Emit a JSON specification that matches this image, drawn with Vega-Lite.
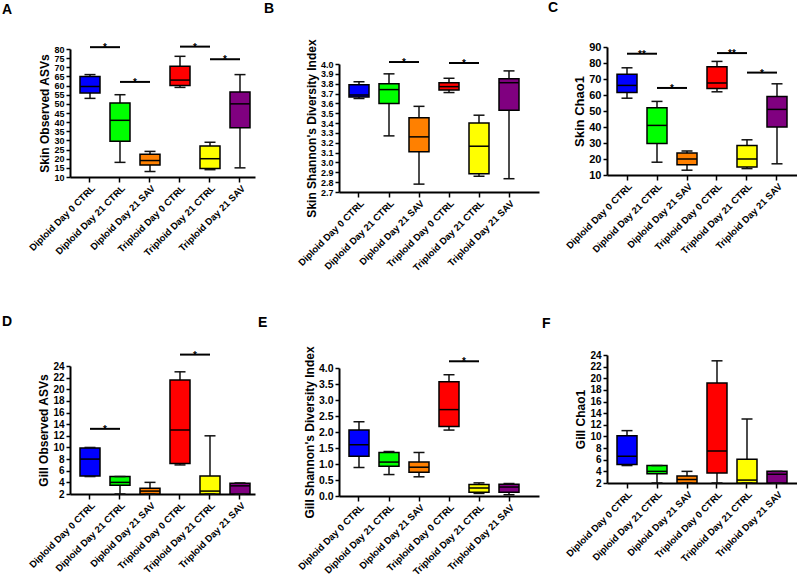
{
"$schema": "https://vega.github.io/schema/vega-lite/v6.json",
"padding": {"left": 2, "top": 1, "right": 0, "bottom": 0},
"background": "white",
"datasets": {
"boxes": [
{"panel":"A","group":"Diploid Day 0 CTRL","lower":53,"q1":56,"median":59.5,"q3":65,"upper":66},
{"panel":"A","group":"Diploid Day 21 CTRL","lower":18,"q1":29.5,"median":41,"q3":50.5,"upper":55},
{"panel":"A","group":"Diploid Day 21 SAV","lower":13,"q1":16.5,"median":19,"q3":22.5,"upper":24},
{"panel":"A","group":"Triploid Day 0 CTRL","lower":59,"q1":60,"median":63,"q3":70.5,"upper":76},
{"panel":"A","group":"Triploid Day 21 CTRL","lower":14,"q1":14.7,"median":20,"q3":27,"upper":29},
{"panel":"A","group":"Triploid Day 21 SAV","lower":15,"q1":37,"median":50,"q3":56.5,"upper":66},
{"panel":"B","group":"Diploid Day 0 CTRL","lower":3.65,"q1":3.665,"median":3.685,"q3":3.79,"upper":3.82},
{"panel":"B","group":"Diploid Day 21 CTRL","lower":3.27,"q1":3.6,"median":3.74,"q3":3.8,"upper":3.9},
{"panel":"B","group":"Diploid Day 21 SAV","lower":2.78,"q1":3.11,"median":3.26,"q3":3.455,"upper":3.57},
{"panel":"B","group":"Triploid Day 0 CTRL","lower":3.71,"q1":3.735,"median":3.77,"q3":3.81,"upper":3.855},
{"panel":"B","group":"Triploid Day 21 CTRL","lower":2.86,"q1":2.885,"median":3.165,"q3":3.4,"upper":3.48},
{"panel":"B","group":"Triploid Day 21 SAV","lower":2.835,"q1":3.53,"median":3.81,"q3":3.85,"upper":3.93},
{"panel":"C","group":"Diploid Day 0 CTRL","lower":58,"q1":61.5,"median":66,"q3":73,"upper":77},
{"panel":"C","group":"Diploid Day 21 CTRL","lower":18,"q1":29.7,"median":41,"q3":52,"upper":56},
{"panel":"C","group":"Diploid Day 21 SAV","lower":13,"q1":16.4,"median":20,"q3":23.7,"upper":25},
{"panel":"C","group":"Triploid Day 0 CTRL","lower":62,"q1":64,"median":67.5,"q3":77.6,"upper":81},
{"panel":"C","group":"Triploid Day 21 CTRL","lower":14,"q1":15,"median":20,"q3":28.5,"upper":32},
{"panel":"C","group":"Triploid Day 21 SAV","lower":17,"q1":40,"median":51,"q3":59,"upper":67},
{"panel":"D","group":"Diploid Day 0 CTRL","lower":5,"q1":5.1,"median":8,"q3":9.9,"upper":10},
{"panel":"D","group":"Diploid Day 21 CTRL","lower":2,"q1":3.5,"median":4,"q3":5,"upper":5},
{"panel":"D","group":"Diploid Day 21 SAV","lower":2,"q1":2,"median":2.5,"q3":3,"upper":4},
{"panel":"D","group":"Triploid Day 0 CTRL","lower":7,"q1":7.25,"median":13,"q3":21.6,"upper":23},
{"panel":"D","group":"Triploid Day 21 CTRL","lower":2,"q1":2,"median":2.5,"q3":5.1,"upper":12},
{"panel":"D","group":"Triploid Day 21 SAV","lower":2,"q1":2,"median":3.4,"q3":3.85,"upper":3.9},
{"panel":"E","group":"Diploid Day 0 CTRL","lower":0.89,"q1":1.24,"median":1.6,"q3":2.06,"upper":2.32},
{"panel":"E","group":"Diploid Day 21 CTRL","lower":0.67,"q1":0.93,"median":1.06,"q3":1.36,"upper":1.39},
{"panel":"E","group":"Diploid Day 21 SAV","lower":0.6,"q1":0.74,"median":0.9,"q3":1.06,"upper":1.36},
{"panel":"E","group":"Triploid Day 0 CTRL","lower":2.06,"q1":2.17,"median":2.7,"q3":3.57,"upper":3.79},
{"panel":"E","group":"Triploid Day 21 CTRL","lower":0.08,"q1":0.12,"median":0.25,"q3":0.36,"upper":0.41},
{"panel":"E","group":"Triploid Day 21 SAV","lower":0.04,"q1":0.12,"median":0.28,"q3":0.37,"upper":0.39},
{"panel":"F","group":"Diploid Day 0 CTRL","lower":5,"q1":5.2,"median":6.6,"q3":10.1,"upper":11},
{"panel":"F","group":"Diploid Day 21 CTRL","lower":2,"q1":3.6,"median":4,"q3":5,"upper":5},
{"panel":"F","group":"Diploid Day 21 SAV","lower":2,"q1":2,"median":2.6,"q3":3.2,"upper":4},
{"panel":"F","group":"Triploid Day 0 CTRL","lower":2,"q1":3.7,"median":7.5,"q3":19.2,"upper":23},
{"panel":"F","group":"Triploid Day 21 CTRL","lower":2,"q1":2,"median":2.5,"q3":6.1,"upper":13},
{"panel":"F","group":"Triploid Day 21 SAV","lower":2,"q1":2,"median":3.5,"q3":4,"upper":4}
],
"sig": [
{"panel":"A","from":"Diploid Day 0 CTRL","to":"Diploid Day 21 CTRL","y":81,"label":"*"},
{"panel":"A","from":"Diploid Day 21 CTRL","to":"Diploid Day 21 SAV","y":62,"label":"*"},
{"panel":"A","from":"Triploid Day 0 CTRL","to":"Triploid Day 21 CTRL","y":81.3,"label":"*"},
{"panel":"A","from":"Triploid Day 21 CTRL","to":"Triploid Day 21 SAV","y":74.4,"label":"*"},
{"panel":"B","from":"Diploid Day 21 CTRL","to":"Diploid Day 21 SAV","y":4.02,"label":"*"},
{"panel":"B","from":"Triploid Day 0 CTRL","to":"Triploid Day 21 CTRL","y":4.01,"label":"*"},
{"panel":"C","from":"Diploid Day 0 CTRL","to":"Diploid Day 21 CTRL","y":85.8,"label":"**"},
{"panel":"C","from":"Diploid Day 21 CTRL","to":"Diploid Day 21 SAV","y":64.4,"label":"*"},
{"panel":"C","from":"Triploid Day 0 CTRL","to":"Triploid Day 21 CTRL","y":86.2,"label":"**"},
{"panel":"C","from":"Triploid Day 21 CTRL","to":"Triploid Day 21 SAV","y":74,"label":"*"},
{"panel":"D","from":"Diploid Day 0 CTRL","to":"Diploid Day 21 CTRL","y":13.2,"label":"*"},
{"panel":"D","from":"Triploid Day 0 CTRL","to":"Triploid Day 21 CTRL","y":25.96,"label":"*"},
{"panel":"E","from":"Triploid Day 0 CTRL","to":"Triploid Day 21 CTRL","y":4.21,"label":"*"}
]
},
"spacing": 41,
"vconcat": [
{"hconcat": [
{"width": 185, "height": 130,
 "title": {"text": "A", "dx": -68, "offset": 26},
 "data": {"name": "boxes"}, "transform": [{"filter": "datum.panel === 'A'"}],
 "layer": [
  {"mark": {"type": "rule", "color": "#111", "strokeWidth": 1.5},
   "encoding": {"x": {"field": "group", "type": "nominal", "title": null, "scale": {"domain": ["Diploid Day 0 CTRL","Diploid Day 21 CTRL","Diploid Day 21 SAV","Triploid Day 0 CTRL","Triploid Day 21 CTRL","Triploid Day 21 SAV"], "paddingInner": 0, "paddingOuter": 0.0833, "align": 1}},
    "y": {"field": "lower", "type": "quantitative", "title": "Skin Observed ASVs", "scale": {"domain": [10, 80], "nice": false, "zero": false, "range": [130, 2]}, "axis": {"values": [10,15,20,25,30,35,40,45,50,55,60,65,70,75,80], "labelFontSize": 9}},
    "y2": {"field": "upper"}}},
  {"mark": {"type": "bar", "width": 20, "stroke": "black", "strokeWidth": 1.5},
   "encoding": {"x": {"field": "group", "type": "nominal", "title": null}, "y": {"field": "q1", "type": "quantitative", "title": "Skin Observed ASVs", "axis": {"values": [10,15,20,25,30,35,40,45,50,55,60,65,70,75,80], "labelFontSize": 9}}, "y2": {"field": "q3"},
    "fill": {"field": "group", "type": "nominal", "scale": {"domain": ["Diploid Day 0 CTRL","Diploid Day 21 CTRL","Diploid Day 21 SAV","Triploid Day 0 CTRL","Triploid Day 21 CTRL","Triploid Day 21 SAV"], "range": ["#0000ff","#00ff00","#ff8000","#ff0000","#ffff00","#800080"]}, "legend": null}}},
  {"mark": {"type": "tick", "color": "black", "size": 20, "thickness": 1.5, "opacity": 1},
   "encoding": {"x": {"field": "group", "type": "nominal", "title": null}, "y": {"field": "median", "type": "quantitative", "title": "Skin Observed ASVs", "axis": {"values": [10,15,20,25,30,35,40,45,50,55,60,65,70,75,80], "labelFontSize": 9}}}},
  {"mark": {"type": "tick", "color": "#111", "size": 11, "thickness": 1.5, "opacity": 1},
   "encoding": {"x": {"field": "group", "type": "nominal", "title": null}, "y": {"field": "lower", "type": "quantitative", "title": "Skin Observed ASVs", "axis": {"values": [10,15,20,25,30,35,40,45,50,55,60,65,70,75,80], "labelFontSize": 9}}}},
  {"mark": {"type": "tick", "color": "#111", "size": 11, "thickness": 1.5, "opacity": 1},
   "encoding": {"x": {"field": "group", "type": "nominal", "title": null}, "y": {"field": "upper", "type": "quantitative", "title": "Skin Observed ASVs", "axis": {"values": [10,15,20,25,30,35,40,45,50,55,60,65,70,75,80], "labelFontSize": 9}}}},
  {"data": {"name": "sig"}, "transform": [{"filter": "datum.panel === 'A'"}],
   "mark": {"type": "rule", "color": "black", "strokeWidth": 2},
   "encoding": {"x": {"field": "from", "type": "nominal", "title": null}, "x2": {"field": "to"}, "y": {"field": "y", "type": "quantitative", "title": "Skin Observed ASVs", "axis": {"values": [10,15,20,25,30,35,40,45,50,55,60,65,70,75,80], "labelFontSize": 9}}}},
  {"data": {"name": "sig"}, "transform": [{"filter": "datum.panel === 'A'"}],
   "mark": {"type": "text", "dx": 15, "dy": 1, "fontSize": 10, "fontWeight": "bold", "font": "Liberation Sans", "color": "black"},
   "encoding": {"x": {"field": "from", "type": "nominal", "title": null}, "y": {"field": "y", "type": "quantitative", "title": "Skin Observed ASVs", "axis": {"values": [10,15,20,25,30,35,40,45,50,55,60,65,70,75,80], "labelFontSize": 9}}, "text": {"field": "label"}}}
 ]},
{"width": 200, "height": 145,
 "title": {"text": "B", "dx": -75, "offset": 23},
 "data": {"name": "boxes"}, "transform": [{"filter": "datum.panel === 'B'"}],
 "layer": [
  {"mark": {"type": "rule", "color": "#111", "strokeWidth": 1.5},
   "encoding": {"x": {"field": "group", "type": "nominal", "title": null, "scale": {"domain": ["Diploid Day 0 CTRL","Diploid Day 21 CTRL","Diploid Day 21 SAV","Triploid Day 0 CTRL","Triploid Day 21 CTRL","Triploid Day 21 SAV"], "paddingInner": 0, "paddingOuter": 0.3333, "align": 0.25}},
    "y": {"field": "lower", "type": "quantitative", "title": "Skin Shannon's Diversity Index", "scale": {"domain": [2.7, 4.0], "nice": false, "zero": false, "range": [145, 17]}, "axis": {"values": [2.7,2.8,2.9,3.0,3.1,3.2,3.3,3.4,3.5,3.6,3.7,3.8,3.9,4.0], "format": ".1f", "labelFontSize": 9}},
    "y2": {"field": "upper"}}},
  {"mark": {"type": "bar", "width": 20, "stroke": "black", "strokeWidth": 1.5},
   "encoding": {"x": {"field": "group", "type": "nominal", "title": null}, "y": {"field": "q1", "type": "quantitative", "title": "Skin Shannon's Diversity Index", "axis": {"values": [2.7,2.8,2.9,3.0,3.1,3.2,3.3,3.4,3.5,3.6,3.7,3.8,3.9,4.0], "format": ".1f", "labelFontSize": 9}}, "y2": {"field": "q3"},
    "fill": {"field": "group", "type": "nominal", "scale": {"domain": ["Diploid Day 0 CTRL","Diploid Day 21 CTRL","Diploid Day 21 SAV","Triploid Day 0 CTRL","Triploid Day 21 CTRL","Triploid Day 21 SAV"], "range": ["#0000ff","#00ff00","#ff8000","#ff0000","#ffff00","#800080"]}, "legend": null}}},
  {"mark": {"type": "tick", "color": "black", "size": 20, "thickness": 1.5, "opacity": 1},
   "encoding": {"x": {"field": "group", "type": "nominal", "title": null}, "y": {"field": "median", "type": "quantitative", "title": "Skin Shannon's Diversity Index", "axis": {"values": [2.7,2.8,2.9,3.0,3.1,3.2,3.3,3.4,3.5,3.6,3.7,3.8,3.9,4.0], "format": ".1f", "labelFontSize": 9}}}},
  {"mark": {"type": "tick", "color": "#111", "size": 11, "thickness": 1.5, "opacity": 1},
   "encoding": {"x": {"field": "group", "type": "nominal", "title": null}, "y": {"field": "lower", "type": "quantitative", "title": "Skin Shannon's Diversity Index", "axis": {"values": [2.7,2.8,2.9,3.0,3.1,3.2,3.3,3.4,3.5,3.6,3.7,3.8,3.9,4.0], "format": ".1f", "labelFontSize": 9}}}},
  {"mark": {"type": "tick", "color": "#111", "size": 11, "thickness": 1.5, "opacity": 1},
   "encoding": {"x": {"field": "group", "type": "nominal", "title": null}, "y": {"field": "upper", "type": "quantitative", "title": "Skin Shannon's Diversity Index", "axis": {"values": [2.7,2.8,2.9,3.0,3.1,3.2,3.3,3.4,3.5,3.6,3.7,3.8,3.9,4.0], "format": ".1f", "labelFontSize": 9}}}},
  {"data": {"name": "sig"}, "transform": [{"filter": "datum.panel === 'B'"}],
   "mark": {"type": "rule", "color": "black", "strokeWidth": 2},
   "encoding": {"x": {"field": "from", "type": "nominal", "title": null}, "x2": {"field": "to"}, "y": {"field": "y", "type": "quantitative", "title": "Skin Shannon's Diversity Index", "axis": {"values": [2.7,2.8,2.9,3.0,3.1,3.2,3.3,3.4,3.5,3.6,3.7,3.8,3.9,4.0], "format": ".1f", "labelFontSize": 9}}}},
  {"data": {"name": "sig"}, "transform": [{"filter": "datum.panel === 'B'"}],
   "mark": {"type": "text", "dx": 15, "dy": 1, "fontSize": 10, "fontWeight": "bold", "font": "Liberation Sans", "color": "black"},
   "encoding": {"x": {"field": "from", "type": "nominal", "title": null}, "y": {"field": "y", "type": "quantitative", "title": "Skin Shannon's Diversity Index", "axis": {"values": [2.7,2.8,2.9,3.0,3.1,3.2,3.3,3.4,3.5,3.6,3.7,3.8,3.9,4.0], "format": ".1f", "labelFontSize": 9}}, "text": {"field": "label"}}}
 ]},
{"width": 190, "height": 128,
 "title": {"text": "C", "dx": -59, "offset": 26},
 "data": {"name": "boxes"}, "transform": [{"filter": "datum.panel === 'C'"}],
 "layer": [
  {"mark": {"type": "rule", "color": "#111", "strokeWidth": 1.5},
   "encoding": {"x": {"field": "group", "type": "nominal", "title": null, "scale": {"domain": ["Diploid Day 0 CTRL","Diploid Day 21 CTRL","Diploid Day 21 SAV","Triploid Day 0 CTRL","Triploid Day 21 CTRL","Triploid Day 21 SAV"], "paddingInner": 0, "paddingOuter": 0.1667, "align": 0.5}},
    "y": {"field": "lower", "type": "quantitative", "title": "Skin Chao1", "scale": {"domain": [10, 90], "nice": false, "zero": false}, "axis": {"values": [10,20,30,40,50,60,70,80,90], "labelFontSize": 11, "titleFontSize": 13}},
    "y2": {"field": "upper"}}},
  {"mark": {"type": "bar", "width": 20, "stroke": "black", "strokeWidth": 1.5},
   "encoding": {"x": {"field": "group", "type": "nominal", "title": null}, "y": {"field": "q1", "type": "quantitative", "title": "Skin Chao1", "axis": {"values": [10,20,30,40,50,60,70,80,90], "labelFontSize": 11, "titleFontSize": 13}}, "y2": {"field": "q3"},
    "fill": {"field": "group", "type": "nominal", "scale": {"domain": ["Diploid Day 0 CTRL","Diploid Day 21 CTRL","Diploid Day 21 SAV","Triploid Day 0 CTRL","Triploid Day 21 CTRL","Triploid Day 21 SAV"], "range": ["#0000ff","#00ff00","#ff8000","#ff0000","#ffff00","#800080"]}, "legend": null}}},
  {"mark": {"type": "tick", "color": "black", "size": 20, "thickness": 1.5, "opacity": 1},
   "encoding": {"x": {"field": "group", "type": "nominal", "title": null}, "y": {"field": "median", "type": "quantitative", "title": "Skin Chao1", "axis": {"values": [10,20,30,40,50,60,70,80,90], "labelFontSize": 11, "titleFontSize": 13}}}},
  {"mark": {"type": "tick", "color": "#111", "size": 11, "thickness": 1.5, "opacity": 1},
   "encoding": {"x": {"field": "group", "type": "nominal", "title": null}, "y": {"field": "lower", "type": "quantitative", "title": "Skin Chao1", "axis": {"values": [10,20,30,40,50,60,70,80,90], "labelFontSize": 11, "titleFontSize": 13}}}},
  {"mark": {"type": "tick", "color": "#111", "size": 11, "thickness": 1.5, "opacity": 1},
   "encoding": {"x": {"field": "group", "type": "nominal", "title": null}, "y": {"field": "upper", "type": "quantitative", "title": "Skin Chao1", "axis": {"values": [10,20,30,40,50,60,70,80,90], "labelFontSize": 11, "titleFontSize": 13}}}},
  {"data": {"name": "sig"}, "transform": [{"filter": "datum.panel === 'C'"}],
   "mark": {"type": "rule", "color": "black", "strokeWidth": 2},
   "encoding": {"x": {"field": "from", "type": "nominal", "title": null}, "x2": {"field": "to"}, "y": {"field": "y", "type": "quantitative", "title": "Skin Chao1", "axis": {"values": [10,20,30,40,50,60,70,80,90], "labelFontSize": 11, "titleFontSize": 13}}}},
  {"data": {"name": "sig"}, "transform": [{"filter": "datum.panel === 'C'"}],
   "mark": {"type": "text", "dx": 15, "dy": 1, "fontSize": 10, "fontWeight": "bold", "font": "Liberation Sans", "color": "black"},
   "encoding": {"x": {"field": "from", "type": "nominal", "title": null}, "y": {"field": "y", "type": "quantitative", "title": "Skin Chao1", "axis": {"values": [10,20,30,40,50,60,70,80,90], "labelFontSize": 11, "titleFontSize": 13}}, "text": {"field": "label"}}}
 ]}
], "spacing": 9, "resolve": {"scale": {"x": "independent", "y": "independent"}}},
{"hconcat": [
{"width": 185, "height": 139,
 "title": {"text": "D", "dx": -68, "offset": 22},
 "data": {"name": "boxes"}, "transform": [{"filter": "datum.panel === 'D'"}],
 "layer": [
  {"mark": {"type": "rule", "color": "#111", "strokeWidth": 1.5},
   "encoding": {"x": {"field": "group", "type": "nominal", "title": null, "scale": {"domain": ["Diploid Day 0 CTRL","Diploid Day 21 CTRL","Diploid Day 21 SAV","Triploid Day 0 CTRL","Triploid Day 21 CTRL","Triploid Day 21 SAV"], "paddingInner": 0, "paddingOuter": 0.0833, "align": 1}},
    "y": {"field": "lower", "type": "quantitative", "title": "Gill Observed ASVs", "scale": {"domain": [2, 24], "nice": false, "zero": false, "range": [139, 11]}, "axis": {"values": [2,4,6,8,10,12,14,16,18,20,22,24], "labelFontSize": 10}},
    "y2": {"field": "upper"}}},
  {"mark": {"type": "bar", "width": 20, "stroke": "black", "strokeWidth": 1.5},
   "encoding": {"x": {"field": "group", "type": "nominal", "title": null}, "y": {"field": "q1", "type": "quantitative", "title": "Gill Observed ASVs", "axis": {"values": [2,4,6,8,10,12,14,16,18,20,22,24], "labelFontSize": 10}}, "y2": {"field": "q3"},
    "fill": {"field": "group", "type": "nominal", "scale": {"domain": ["Diploid Day 0 CTRL","Diploid Day 21 CTRL","Diploid Day 21 SAV","Triploid Day 0 CTRL","Triploid Day 21 CTRL","Triploid Day 21 SAV"], "range": ["#0000ff","#00ff00","#ff8000","#ff0000","#ffff00","#800080"]}, "legend": null}}},
  {"mark": {"type": "tick", "color": "black", "size": 20, "thickness": 1.5, "opacity": 1},
   "encoding": {"x": {"field": "group", "type": "nominal", "title": null}, "y": {"field": "median", "type": "quantitative", "title": "Gill Observed ASVs", "axis": {"values": [2,4,6,8,10,12,14,16,18,20,22,24], "labelFontSize": 10}}}},
  {"mark": {"type": "tick", "color": "#111", "size": 11, "thickness": 1.5, "opacity": 1},
   "encoding": {"x": {"field": "group", "type": "nominal", "title": null}, "y": {"field": "lower", "type": "quantitative", "title": "Gill Observed ASVs", "axis": {"values": [2,4,6,8,10,12,14,16,18,20,22,24], "labelFontSize": 10}}}},
  {"mark": {"type": "tick", "color": "#111", "size": 11, "thickness": 1.5, "opacity": 1},
   "encoding": {"x": {"field": "group", "type": "nominal", "title": null}, "y": {"field": "upper", "type": "quantitative", "title": "Gill Observed ASVs", "axis": {"values": [2,4,6,8,10,12,14,16,18,20,22,24], "labelFontSize": 10}}}},
  {"data": {"name": "sig"}, "transform": [{"filter": "datum.panel === 'D'"}],
   "mark": {"type": "rule", "color": "black", "strokeWidth": 2},
   "encoding": {"x": {"field": "from", "type": "nominal", "title": null}, "x2": {"field": "to"}, "y": {"field": "y", "type": "quantitative", "title": "Gill Observed ASVs", "axis": {"values": [2,4,6,8,10,12,14,16,18,20,22,24], "labelFontSize": 10}}}},
  {"data": {"name": "sig"}, "transform": [{"filter": "datum.panel === 'D'"}],
   "mark": {"type": "text", "dx": 15, "dy": 1, "fontSize": 10, "fontWeight": "bold", "font": "Liberation Sans", "color": "black"},
   "encoding": {"x": {"field": "from", "type": "nominal", "title": null}, "y": {"field": "y", "type": "quantitative", "title": "Gill Observed ASVs", "axis": {"values": [2,4,6,8,10,12,14,16,18,20,22,24], "labelFontSize": 10}}, "text": {"field": "label"}}}
 ]},
{"width": 200, "height": 141,
 "title": {"text": "E", "dx": -81, "offset": 16},
 "data": {"name": "boxes"}, "transform": [{"filter": "datum.panel === 'E'"}],
 "layer": [
  {"mark": {"type": "rule", "color": "#111", "strokeWidth": 1.5},
   "encoding": {"x": {"field": "group", "type": "nominal", "title": null, "scale": {"domain": ["Diploid Day 0 CTRL","Diploid Day 21 CTRL","Diploid Day 21 SAV","Triploid Day 0 CTRL","Triploid Day 21 CTRL","Triploid Day 21 SAV"], "paddingInner": 0, "paddingOuter": 0.3333, "align": 0.25}},
    "y": {"field": "lower", "type": "quantitative", "title": "Gill Shannon's Diversity Index", "scale": {"domain": [0, 4], "nice": false, "zero": false, "range": [141, 13]}, "axis": {"values": [0,0.5,1,1.5,2,2.5,3,3.5,4], "format": ".1f", "labelFontSize": 10.5}},
    "y2": {"field": "upper"}}},
  {"mark": {"type": "bar", "width": 20, "stroke": "black", "strokeWidth": 1.5},
   "encoding": {"x": {"field": "group", "type": "nominal", "title": null}, "y": {"field": "q1", "type": "quantitative", "title": "Gill Shannon's Diversity Index", "axis": {"values": [0,0.5,1,1.5,2,2.5,3,3.5,4], "format": ".1f", "labelFontSize": 10.5}}, "y2": {"field": "q3"},
    "fill": {"field": "group", "type": "nominal", "scale": {"domain": ["Diploid Day 0 CTRL","Diploid Day 21 CTRL","Diploid Day 21 SAV","Triploid Day 0 CTRL","Triploid Day 21 CTRL","Triploid Day 21 SAV"], "range": ["#0000ff","#00ff00","#ff8000","#ff0000","#ffff00","#800080"]}, "legend": null}}},
  {"mark": {"type": "tick", "color": "black", "size": 20, "thickness": 1.5, "opacity": 1},
   "encoding": {"x": {"field": "group", "type": "nominal", "title": null}, "y": {"field": "median", "type": "quantitative", "title": "Gill Shannon's Diversity Index", "axis": {"values": [0,0.5,1,1.5,2,2.5,3,3.5,4], "format": ".1f", "labelFontSize": 10.5}}}},
  {"mark": {"type": "tick", "color": "#111", "size": 11, "thickness": 1.5, "opacity": 1},
   "encoding": {"x": {"field": "group", "type": "nominal", "title": null}, "y": {"field": "lower", "type": "quantitative", "title": "Gill Shannon's Diversity Index", "axis": {"values": [0,0.5,1,1.5,2,2.5,3,3.5,4], "format": ".1f", "labelFontSize": 10.5}}}},
  {"mark": {"type": "tick", "color": "#111", "size": 11, "thickness": 1.5, "opacity": 1},
   "encoding": {"x": {"field": "group", "type": "nominal", "title": null}, "y": {"field": "upper", "type": "quantitative", "title": "Gill Shannon's Diversity Index", "axis": {"values": [0,0.5,1,1.5,2,2.5,3,3.5,4], "format": ".1f", "labelFontSize": 10.5}}}},
  {"data": {"name": "sig"}, "transform": [{"filter": "datum.panel === 'E'"}],
   "mark": {"type": "rule", "color": "black", "strokeWidth": 2},
   "encoding": {"x": {"field": "from", "type": "nominal", "title": null}, "x2": {"field": "to"}, "y": {"field": "y", "type": "quantitative", "title": "Gill Shannon's Diversity Index", "axis": {"values": [0,0.5,1,1.5,2,2.5,3,3.5,4], "format": ".1f", "labelFontSize": 10.5}}}},
  {"data": {"name": "sig"}, "transform": [{"filter": "datum.panel === 'E'"}],
   "mark": {"type": "text", "dx": 15, "dy": 1, "fontSize": 10, "fontWeight": "bold", "font": "Liberation Sans", "color": "black"},
   "encoding": {"x": {"field": "from", "type": "nominal", "title": null}, "y": {"field": "y", "type": "quantitative", "title": "Gill Shannon's Diversity Index", "axis": {"values": [0,0.5,1,1.5,2,2.5,3,3.5,4], "format": ".1f", "labelFontSize": 10.5}}, "text": {"field": "label"}}}
 ]},
{"width": 190, "height": 128,
 "title": {"text": "F", "dx": -65, "offset": 19},
 "data": {"name": "boxes"}, "transform": [{"filter": "datum.panel === 'F'"}],
 "layer": [
  {"mark": {"type": "rule", "color": "#111", "strokeWidth": 1.5},
   "encoding": {"x": {"field": "group", "type": "nominal", "title": null, "scale": {"domain": ["Diploid Day 0 CTRL","Diploid Day 21 CTRL","Diploid Day 21 SAV","Triploid Day 0 CTRL","Triploid Day 21 CTRL","Triploid Day 21 SAV"], "paddingInner": 0, "paddingOuter": 0.1667, "align": 0.5}},
    "y": {"field": "lower", "type": "quantitative", "title": "Gill Chao1", "scale": {"domain": [2, 24], "nice": false, "zero": false}, "axis": {"values": [2,4,6,8,10,12,14,16,18,20,22,24], "labelFontSize": 10}},
    "y2": {"field": "upper"}}},
  {"mark": {"type": "bar", "width": 20, "stroke": "black", "strokeWidth": 1.5},
   "encoding": {"x": {"field": "group", "type": "nominal", "title": null}, "y": {"field": "q1", "type": "quantitative", "title": "Gill Chao1", "axis": {"values": [2,4,6,8,10,12,14,16,18,20,22,24], "labelFontSize": 10}}, "y2": {"field": "q3"},
    "fill": {"field": "group", "type": "nominal", "scale": {"domain": ["Diploid Day 0 CTRL","Diploid Day 21 CTRL","Diploid Day 21 SAV","Triploid Day 0 CTRL","Triploid Day 21 CTRL","Triploid Day 21 SAV"], "range": ["#0000ff","#00ff00","#ff8000","#ff0000","#ffff00","#800080"]}, "legend": null}}},
  {"mark": {"type": "tick", "color": "black", "size": 20, "thickness": 1.5, "opacity": 1},
   "encoding": {"x": {"field": "group", "type": "nominal", "title": null}, "y": {"field": "median", "type": "quantitative", "title": "Gill Chao1", "axis": {"values": [2,4,6,8,10,12,14,16,18,20,22,24], "labelFontSize": 10}}}},
  {"mark": {"type": "tick", "color": "#111", "size": 11, "thickness": 1.5, "opacity": 1},
   "encoding": {"x": {"field": "group", "type": "nominal", "title": null}, "y": {"field": "lower", "type": "quantitative", "title": "Gill Chao1", "axis": {"values": [2,4,6,8,10,12,14,16,18,20,22,24], "labelFontSize": 10}}}},
  {"mark": {"type": "tick", "color": "#111", "size": 11, "thickness": 1.5, "opacity": 1},
   "encoding": {"x": {"field": "group", "type": "nominal", "title": null}, "y": {"field": "upper", "type": "quantitative", "title": "Gill Chao1", "axis": {"values": [2,4,6,8,10,12,14,16,18,20,22,24], "labelFontSize": 10}}}}
 ]}
], "spacing": 3, "resolve": {"scale": {"x": "independent", "y": "independent"}}}
],
"resolve": {"scale": {"x": "independent", "y": "independent"}},
"config": {
 "view": {"stroke": null},
 "font": "Liberation Sans",
 "axis": {"domainColor": "black", "domainWidth": 2, "tickColor": "black", "tickWidth": 1.5, "labelColor": "black", "labelFont": "Liberation Sans", "labelFontWeight": "bold", "titleFont": "Liberation Sans", "titleFontWeight": "bold", "titleColor": "black", "grid": false, "labelOverlap": false, "labelFlush": false},
 "axisX": {"labelAngle": -45, "labelAlign": "right", "labelBaseline": "top", "labelFontSize": 9.5, "tickSize": 5, "labelPadding": 1},
 "axisY": {"labelFontSize": 10, "tickSize": 4, "labelPadding": 2, "titleFontSize": 12, "titlePadding": 2},
 "title": {"font": "Liberation Sans", "fontSize": 14, "fontWeight": "bold", "color": "black", "anchor": "start", "frame": "group"}
}
}
